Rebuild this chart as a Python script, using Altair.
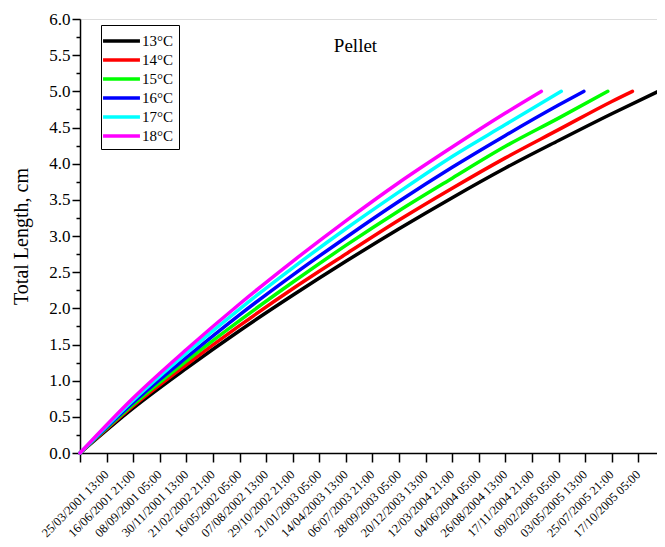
import altair as alt
import pandas as pd

# ---- data ----
series_names = ["13°C", "14°C", "15°C", "16°C", "17°C", "18°C"]
series_colors = ["#000000", "#ff0000", "#00ff00", "#0000ff", "#00ffff", "#ff00ff"]

# elapsed hours since 25/03/2001 13:00
hours_13 = [0, 4000, 8000, 12000, 16000, 20000, 24000, 28000, 32000, 36000, 40000, 43500]
len_13 = [0, 0.62, 1.17, 1.69, 2.18, 2.65, 3.10, 3.53, 3.94, 4.32, 4.69, 5.00]

hours_14 = [0, 4000, 8000, 12000, 16000, 20000, 24000, 28000, 32000, 36000, 40000, 41550]
len_14 = [0, 0.65, 1.22, 1.76, 2.27, 2.75, 3.22, 3.66, 4.08, 4.47, 4.86, 5.00]

hours_15 = [0, 4000, 8000, 12000, 16000, 20000, 24000, 28000, 32000, 36000, 39700]
len_15 = [0, 0.67, 1.27, 1.83, 2.36, 2.87, 3.35, 3.80, 4.24, 4.63, 5.00]

hours_16 = [0, 4000, 8000, 12000, 16000, 20000, 24000, 28000, 32000, 36000, 37900]
len_16 = [0, 0.70, 1.32, 1.91, 2.46, 2.98, 3.48, 3.95, 4.39, 4.81, 5.00]

hours_17 = [0, 4000, 8000, 12000, 16000, 20000, 24000, 28000, 32000, 36200]
len_17 = [0, 0.73, 1.38, 1.99, 2.56, 3.10, 3.61, 4.10, 4.54, 5.00]

hours_18 = [0, 4000, 8000, 12000, 16000, 20000, 24000, 28000, 32000, 34700]
len_18 = [0, 0.76, 1.43, 2.06, 2.65, 3.21, 3.74, 4.23, 4.70, 5.00]

x_tick_hours = [0, 2000, 4000, 6000, 8000, 10000, 12000, 14000, 16000, 18000, 20000,
                22000, 24000, 26000, 28000, 30000, 32000, 34000, 36000, 38000, 40000, 42000]
x_tick_labels = [
    "25/03/2001 13:00", "16/06/2001 21:00", "08/09/2001 05:00", "30/11/2001 13:00",
    "21/02/2002 21:00", "16/05/2002 05:00", "07/08/2002 13:00", "29/10/2002 21:00",
    "21/01/2003 05:00", "14/04/2003 13:00", "06/07/2003 21:00", "28/09/2003 05:00",
    "20/12/2003 13:00", "12/03/2004 21:00", "04/06/2004 05:00", "26/08/2004 13:00",
    "17/11/2004 21:00", "09/02/2005 05:00", "03/05/2005 13:00", "25/07/2005 21:00",
    "17/10/2005 05:00",
]
y_tick_values = [0, 0.25, 0.5, 0.75, 1, 1.25, 1.5, 1.75, 2, 2.25, 2.5, 2.75, 3, 3.25, 3.5,
                 3.75, 4, 4.25, 4.5, 4.75, 5, 5.25, 5.5, 5.75, 6]

all_hours = [hours_13, hours_14, hours_15, hours_16, hours_17, hours_18]
all_lens = [len_13, len_14, len_15, len_16, len_17, len_18]

rows = []
for name, hs, ls in zip(series_names, all_hours, all_lens):
    for h, v in zip(hs, ls):
        rows.append({"series": name, "hours": h, "length": v})
df = pd.DataFrame(rows)

FONT = "Liberation Serif"
label_array = "[" + ",".join("'" + s + "'" for s in x_tick_labels) + "]"
x_label_expr = label_array + "[round(datum.value / 2000)] || ''"

chart = (
    alt.Chart(df)
    .mark_line(strokeWidth=3.5, strokeCap="round", interpolate="monotone", clip=False)
    .encode(
        x=alt.X(
            "hours:Q",
            scale=alt.Scale(domain=[0, 43400], nice=False, zero=True),
            axis=alt.Axis(
                values=x_tick_hours,
                labelExpr=x_label_expr,
                labelAngle=315,
                labelAlign="right",
                labelBaseline="middle",
                labelOffset=26,
                labelPadding=10,
                labelOverlap=False,
                labelFlush=False,
                labelFont=FONT,
                labelFontSize=12.5,
                labelColor="black",
                tickSize=9,
                tickWidth=1.5,
                tickColor="black",
                domainColor="black",
                domainWidth=1.5,
                grid=False,
                title=None,
            ),
        ),
        y=alt.Y(
            "length:Q",
            scale=alt.Scale(domain=[0, 6], nice=False),
            axis=alt.Axis(
                values=y_tick_values,
                labelExpr="datum.value % 0.5 === 0 ? format(datum.value, '.1f') : ''",
                labelFont=FONT,
                labelFontSize=17,
                labelColor="black",
                labelPadding=2,
                labelOverlap=False,
                labelFlush=False,
                tickSize={"condition": {"test": "datum.value % 0.5 === 0", "value": 8}, "value": 4},
                tickWidth=1.5,
                tickColor="black",
                domainColor="black",
                domainWidth=1.5,
                grid=False,
                title="Total Length, cm",
                titleFont=FONT,
                titleFontSize=20,
                titleFontWeight="normal",
                titleColor="black",
                titlePadding=17,
            ),
        ),
        color=alt.Color(
            "series:N",
            scale=alt.Scale(domain=series_names, range=series_colors),
            sort=series_names,
            legend=alt.Legend(
                title=None,
                orient="none",
                legendX=21,
                legendY=6,
                symbolType="M-1.55,0H2.55",
                symbolSize=324,
                symbolStrokeWidth=3.5,
                labelFont=FONT,
                labelFontSize=15,
                labelColor="black",
                labelOffset=14,
                strokeColor="black",
                fillColor="white",
                padding=5,
                rowPadding=0,
                cornerRadius=0,
            ),
        ),
    )
    .properties(
        width=577,
        height=434,
        autosize=alt.AutoSizeParams(type="none"),
        padding={"left": 72, "top": 11, "right": 0, "bottom": 86},
        title=alt.TitleParams(
            "Pellet",
            font=FONT,
            fontSize=19,
            fontWeight="normal",
            color="black",
            anchor="middle",
            dx=-13,
            dy=50,
        ),
    )
    .configure_view(stroke=None)
    .configure(background="white")
)

chart.save("out.html", embed_options={"renderer": "svg", "actions": False})
